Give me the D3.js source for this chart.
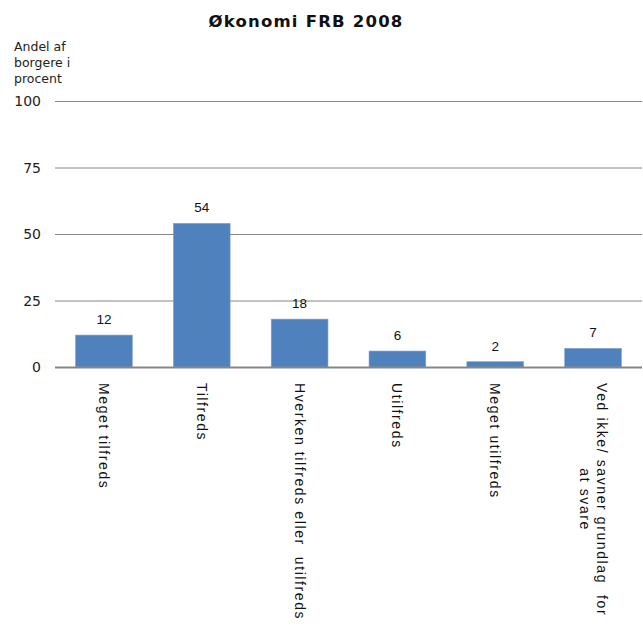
<!DOCTYPE html>
<html>
<head>
<meta charset="utf-8">
<script src="https://cdn.jsdelivr.net/npm/d3@7"></script>
<style>
  html, body { margin: 0; padding: 0; background: #fff; }
  svg { display: block; }
  .cat { white-space: pre; }
</style>
</head>
<body>
<svg id="chart" width="643" height="626"></svg>
<script>
// Chart content
const title = "Økonomi FRB 2008";
const yAxisTitle = ["Andel af", "borgere i", "procent"];
const categories = ["Meget tilfreds", "Tilfreds", "Hverken tilfreds eller utilfreds", "Utilfreds", "Meget utilfreds", "Ved ikke/ savner grundlag for at svare"];
const categoryLines = [
  ["Meget tilfreds"],
  ["Tilfreds"],
  ["Hverken tilfreds eller  utilfreds"],
  ["Utilfreds"],
  ["Meget utilfreds"],
  ["Ved ikke/ savner grundlag  for", "at svare"]
];
const values = [12, 54, 18, 6, 2, 7];
const yTicks = [0, 25, 50, 75, 100];

const svg = d3.select("#chart");

const plotLeft = 55, plotRight = 642, plotTop = 101, plotBottom = 367;

const x = d3.scaleBand()
  .domain(categories)
  .range([plotLeft, plotRight])
  .paddingInner(0.42)
  .paddingOuter(0.21);

const y = d3.scaleLinear().domain([0, 100]).range([plotBottom, plotTop]);

// Horizontal gridlines
svg.append("g")
  .selectAll("line")
  .data(yTicks.filter(d => d > 0))
  .join("line")
  .attr("x1", plotLeft).attr("x2", plotRight)
  .attr("y1", d => y(d) + 0.5).attr("y2", d => y(d) + 0.5)
  .attr("stroke", "#868686")
  .attr("stroke-width", 1);

// Tick labels
svg.append("g")
  .selectAll("text")
  .data(yTicks)
  .join("text")
  .attr("x", 41)
  .attr("y", d => y(d))
  .attr("dy", "0.36em")
  .attr("text-anchor", "end")
  .attr("font-family", "DejaVu Sans")
  .attr("font-size", 14)
  .attr("fill", "#222")
  .text(d => d);

// Bars
svg.append("g")
  .selectAll("rect")
  .data(values)
  .join("rect")
  .attr("x", (d, i) => x(categories[i]))
  .attr("y", d => y(d))
  .attr("width", x.bandwidth())
  .attr("height", d => y(0) - y(d))
  .attr("fill", "#4F81BD")
  .attr("stroke", "#7FA3D0")
  .attr("stroke-width", 0.6);

// Baseline
svg.append("line")
  .attr("x1", plotLeft).attr("x2", plotRight)
  .attr("y1", y(0) + 0.5).attr("y2", y(0) + 0.5)
  .attr("stroke", "#868686")
  .attr("stroke-width", 2);

// Value labels
svg.append("g")
  .selectAll("text")
  .data(values)
  .join("text")
  .attr("x", (d, i) => x(categories[i]) + x.bandwidth() / 2)
  .attr("y", d => y(d) - 11)
  .attr("text-anchor", "middle")
  .attr("font-family", "Liberation Sans, Arial, sans-serif")
  .attr("font-size", 13.5)
  .attr("fill", "#111")
  .text(d => d);

// Rotated category labels
const lineH = 17;
categoryLines.forEach((lines, i) => {
  const cx = x(categories[i]) + x.bandwidth() / 2;
  const g = svg.append("g")
    .attr("transform", `translate(${cx},383) rotate(90)`);
  const t = g.append("text")
    .attr("class", "cat")
    .attr("font-family", "Liberation Sans, Arial, sans-serif")
    .attr("font-size", 14)
    .attr("letter-spacing", "1.6px")
    .attr("fill", "#111")
    .attr("text-anchor", "middle");
  const spans = t.selectAll("tspan")
    .data(lines)
    .join("tspan")
    .attr("y", (d, j) => (j - (lines.length - 1) / 2) * lineH + 5)
    .text(d => d);
  let maxLen = 0;
  spans.each(function () { maxLen = Math.max(maxLen, this.getComputedTextLength()); });
  spans.attr("x", maxLen / 2);
});

// Axis title
svg.append("text")
  .attr("x", 14)
  .attr("y", 51)
  .attr("font-family", "DejaVu Sans")
  .attr("font-size", 12.5)
  .attr("fill", "#222")
  .selectAll("tspan")
  .data(yAxisTitle)
  .join("tspan")
  .attr("x", 14)
  .attr("dy", (d, i) => i === 0 ? 0 : 16)
  .text(d => d);

// Chart title
svg.append("text")
  .attr("x", 306)
  .attr("y", 27)
  .attr("text-anchor", "middle")
  .attr("font-family", "DejaVu Sans")
  .attr("font-weight", "bold")
  .attr("font-size", 16.5)
  .attr("letter-spacing", "1.2px")
  .attr("fill", "#111")
  .text(title);
</script>
</body>
</html>
